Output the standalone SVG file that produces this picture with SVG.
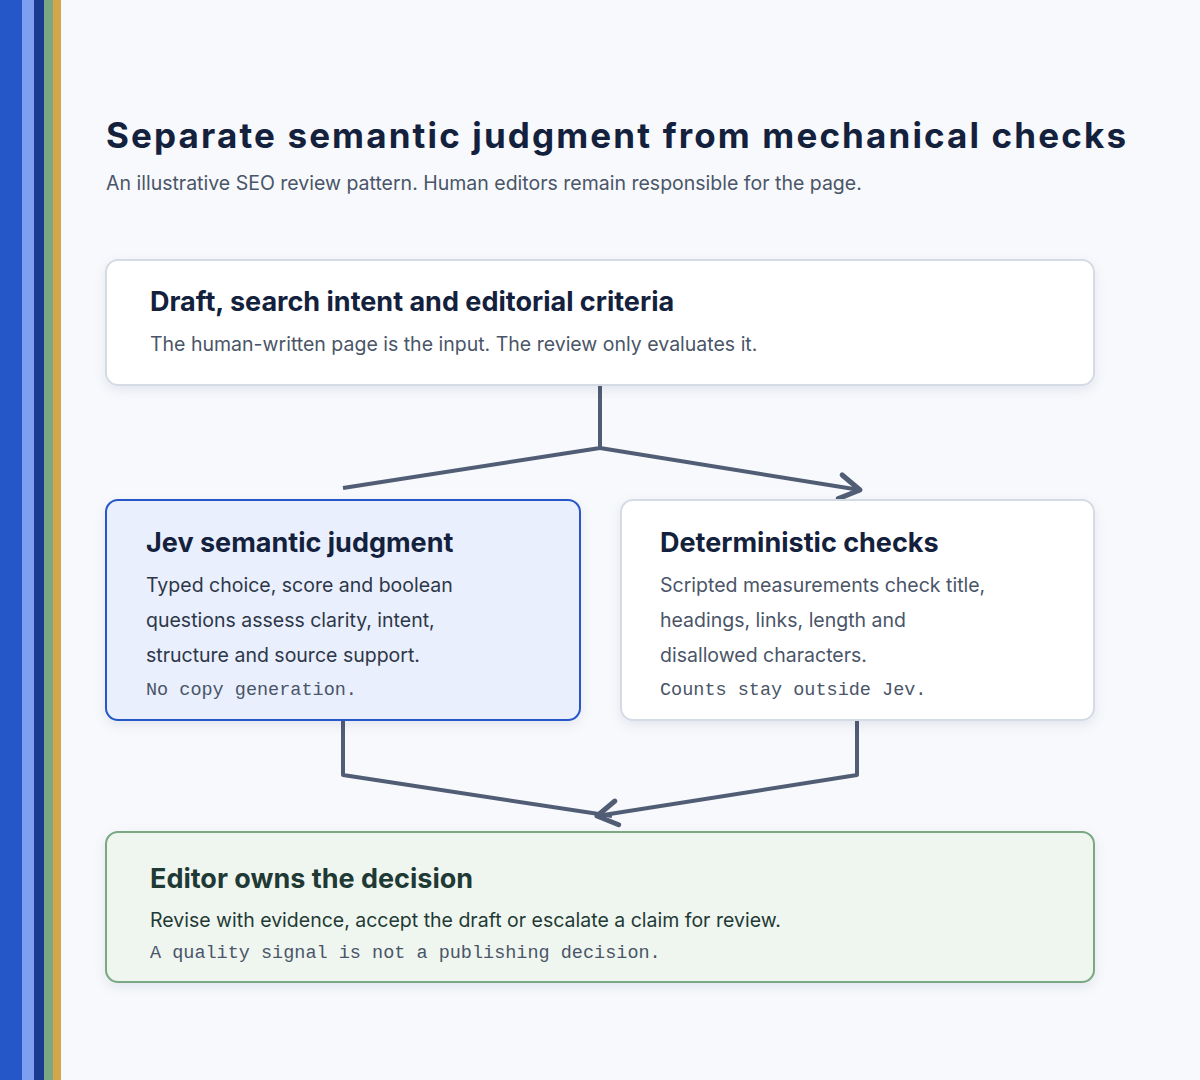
<svg xmlns="http://www.w3.org/2000/svg" width="1200" height="1080" viewBox="0 0 1200 1080">
<style>
.h{font-family:Inter,"Liberation Sans",Arial,sans-serif;font-weight:bold;font-size:27px;fill:#14213d}
.b{font-family:Inter,"Liberation Sans",Arial,sans-serif;font-size:19.5px;fill:#4a5568}
.m{font-family:"Liberation Mono","DejaVu Sans Mono",monospace;font-size:18.5px;fill:#4a5568}
.c{fill:none;stroke:#505d75;stroke-width:4;stroke-linejoin:round}
</style>
<defs>
<filter id="sh" x="-10%" y="-10%" width="120%" height="130%"><feDropShadow dx="0" dy="4" stdDeviation="6" flood-color="#1a2a50" flood-opacity="0.08"/></filter>
<marker id="ar" viewBox="0 0 30 30" refX="28" refY="15" markerWidth="30" markerHeight="30" markerUnits="userSpaceOnUse" orient="auto" overflow="visible"><path d="M8,3 L28,15 L8,27" fill="none" stroke="#505d75" stroke-width="5" stroke-linecap="round" stroke-linejoin="round"/></marker>
</defs>
<rect width="1200" height="1080" fill="#f7f9fc"/>
<rect x="0" width="22" height="1080" fill="#2557c8"/>
<rect x="22" width="12" height="1080" fill="#7e9ff0"/>
<rect x="34" width="10" height="1080" fill="#1a3a8f"/>
<rect x="44" width="9" height="1080" fill="#7aa882"/>
<rect x="53" width="8" height="1080" fill="#d4a64a"/>
<text x="106" y="148" font-family="Inter,Liberation Sans,Arial,sans-serif" font-weight="bold" font-size="35" fill="#14213d" textLength="1020">Separate semantic judgment from mechanical checks</text>
<text x="106" y="190" class="b">An illustrative SEO review pattern. Human editors remain responsible for the page.</text>
<g id="connectors">
<path class="c" d="M600,386 V448 L343,488"/>
<path class="c" d="M600,448 L860,490" marker-end="url(#ar)"/>
<path class="c" d="M343,720 V775 L612,816"/>
<path class="c" d="M857,720 V775 L597,816" marker-end="url(#ar)"/>
</g>
<g id="draft">
<rect x="106" y="260" width="988" height="125" rx="12" fill="#fff" stroke="#d5dbe5" stroke-width="2" filter="url(#sh)"/>
<text x="150" y="311" class="h">Draft, search intent and editorial criteria</text>
<text x="150" y="351" class="b">The human-written page is the input. The review only evaluates it.</text>
</g>
<g id="jev">
<rect x="106" y="500" width="474" height="220" rx="12" fill="#e9effd" stroke="#2557c8" stroke-width="2" filter="url(#sh)"/>
<text x="146" y="552" class="h">Jev semantic judgment</text>
<text x="146" y="592" class="b" style="fill:#2d3748">Typed choice, score and boolean</text>
<text x="146" y="627" class="b" style="fill:#2d3748">questions assess clarity, intent,</text>
<text x="146" y="662" class="b" style="fill:#2d3748">structure and source support.</text>
<text x="146" y="695" class="m">No copy generation.</text>
</g>
<g id="deterministic">
<rect x="621" y="500" width="473" height="220" rx="12" fill="#fff" stroke="#d5dbe5" stroke-width="2" filter="url(#sh)"/>
<text x="660" y="552" class="h">Deterministic checks</text>
<text x="660" y="592" class="b">Scripted measurements check title,</text>
<text x="660" y="627" class="b">headings, links, length and</text>
<text x="660" y="662" class="b">disallowed characters.</text>
<text x="660" y="695" class="m">Counts stay outside Jev.</text>
</g>
<g id="editor">
<rect x="106" y="832" width="988" height="150" rx="12" fill="#eff6ef" stroke="#7aa882" stroke-width="2" filter="url(#sh)"/>
<text x="150" y="888" class="h" style="fill:#1f3a35">Editor owns the decision</text>
<text x="150" y="927" class="b" style="fill:#1f3a35">Revise with evidence, accept the draft or escalate a claim for review.</text>
<text x="150" y="958" class="m">A quality signal is not a publishing decision.</text>
</g>
</svg>
